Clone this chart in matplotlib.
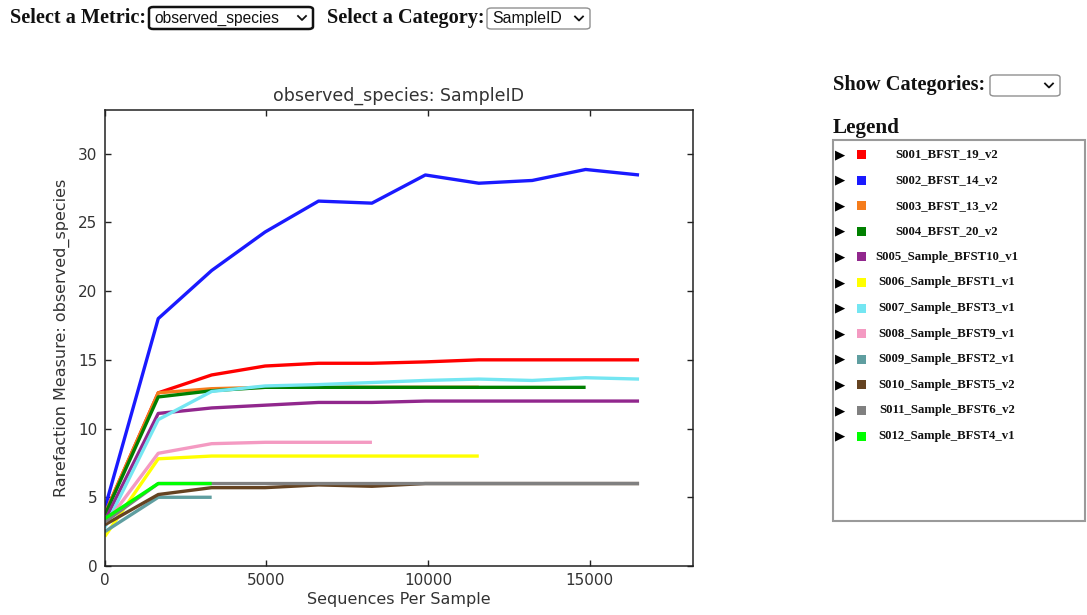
import matplotlib
matplotlib.use("Agg")
import matplotlib.pyplot as plt
from matplotlib.patches import FancyBboxPatch, Rectangle
from matplotlib.lines import Line2D

W, H = 1087, 615

# ---------------- data ----------------
depths = [10, 1661, 3312, 4963, 6614, 8265, 9916, 11567, 13218, 14869, 16520]

sample_names = [
    "S001_BFST_19_v2", "S002_BFST_14_v2", "S003_BFST_13_v2", "S004_BFST_20_v2",
    "S005_Sample_BFST10_v1", "S006_Sample_BFST1_v1", "S007_Sample_BFST3_v1",
    "S008_Sample_BFST9_v1", "S009_Sample_BFST2_v1", "S010_Sample_BFST5_v2",
    "S011_Sample_BFST6_v2", "S012_Sample_BFST4_v1",
]
sample_colors = [
    "#ff0000", "#1a1aff", "#f57c1c", "#008000", "#91278d", "#ffff00",
    "#74e6f2", "#f49ac2", "#5f9ea0", "#654321", "#808080", "#00ff00",
]

s001 = [3.8, 12.6, 13.9, 14.55, 14.75, 14.75, 14.85, 15.0, 15.0, 15.0, 15.0]
s002 = [4.2, 18.0, 21.5, 24.3, 26.55, 26.4, 28.45, 27.85, 28.05, 28.85, 28.45]
s003 = [3.8, 12.6, 12.9, 13.0, 13.0, 13.0, 13.0, 13.0]
s004 = [3.7, 12.3, 12.75, 13.0, 13.0, 13.0, 13.0, 13.0, 13.0, 13.0]
s005 = [3.3, 11.1, 11.5, 11.7, 11.9, 11.9, 12.0, 12.0, 12.0, 12.0, 12.0]
s006 = [2.15, 7.8, 8.0, 8.0, 8.0, 8.0, 8.0, 8.0]
s007 = [2.8, 10.65, 12.7, 13.1, 13.2, 13.35, 13.5, 13.6, 13.5, 13.7, 13.6]
s008 = [3.0, 8.2, 8.9, 9.0, 9.0, 9.0]
s009 = [2.5, 5.0, 5.0]
s010 = [3.0, 5.2, 5.7, 5.7, 5.9, 5.8, 6.0, 6.0, 6.0, 6.0, 6.0]
s011 = [3.2, 6.0, 6.0, 6.0, 6.0, 6.0, 6.0, 6.0, 6.0, 6.0, 6.0]
s012 = [3.45, 6.0, 6.0]
series = [s001, s002, s003, s004, s005, s006, s007, s008, s009, s010, s011, s012]

metric = "observed_species"
category = "SampleID"

# ---------------- figure ----------------
fig = plt.figure(figsize=(W / 100, H / 100), dpi=100)
fig.patch.set_facecolor("white")


def fx(x):
    return x / W


def fy(y):
    return 1 - y / H


ax = fig.add_axes([fx(104.5), fy(566), fx(692.5) - fx(104.5), fy(110) - fy(566)])
for vals, col in zip(series, sample_colors):
    ax.plot(depths[:len(vals)], vals, color=col, lw=2.4, solid_capstyle="butt")

ymax = max(max(v) for v in series) * 1.15
xmax = max(depths) * 1.1
ax.set_xlim(0, xmax)
ax.set_ylim(0, ymax)
ax.set_xticks([0, 5000, 10000, 15000])
ax.set_yticks([0, 5, 10, 15, 20, 25, 30])
ax.tick_params(direction="in", top=True, right=True, length=4, width=1,
               labelsize=11, colors="#222222", labelcolor="#333333", pad=5)
for sp in ax.spines.values():
    sp.set_color("#222222")
    sp.set_linewidth(1.1)
ax.set_title(f"{metric}: {category}", fontsize=12.5, color="#333333", pad=7)
ax.set_xlabel("Sequences Per Sample", fontsize=11.5, color="#333333", labelpad=3)
ax.set_ylabel(f"Rarefaction Measure: {metric}", fontsize=11.5, color="#333333", labelpad=6)

serif_bold = dict(family="Liberation Serif", weight="bold", color="#111111")


def select_box(x0, y0, x1, y1, text, dark=False, size=11.2):
    box = FancyBboxPatch((fx(x0), fy(y1)), fx(x1) - fx(x0), fy(y0) - fy(y1),
                         boxstyle="round,pad=0,rounding_size=0.004",
                         transform=fig.transFigure, facecolor="white",
                         edgecolor="#111111" if dark else "#8f8f8f",
                         linewidth=1.8 if dark else 1.0)
    fig.add_artist(box)
    if text:
        fig.text(fx(x0 + 5), fy((y0 + y1) / 2 + 0.5), text, family="Liberation Sans",
                 fontsize=size, va="center", ha="left", color="#111111")
    cx, cy = x1 - 11, (y0 + y1) / 2
    fig.add_artist(Line2D([fx(cx - 4), fx(cx), fx(cx + 4)], [fy(cy - 2), fy(cy + 2), fy(cy - 2)],
                          transform=fig.transFigure, color="#111111", lw=1.3))


fig.text(fx(10), fy(18), "Select a Metric:", fontsize=14.6, va="center", ha="left", **serif_bold)
select_box(149, 7, 313, 29, metric, dark=True, size=11.2)
fig.text(fx(327), fy(18), "Select a Category:", fontsize=14.6, va="center", ha="left", **serif_bold)
select_box(487, 8, 590, 29, category, size=11.4)

fig.text(fx(833), fy(85), "Show Categories:", fontsize=14.7, va="center", ha="left", **serif_bold)
select_box(990, 75, 1060, 96, "")
fig.text(fx(833), fy(128), "Legend", fontsize=15.2, va="center", ha="left", **serif_bold)

fig.add_artist(Rectangle((fx(833), fy(521)), fx(1085) - fx(833), fy(140) - fy(521),
                         transform=fig.transFigure, facecolor="white",
                         edgecolor="#9a9a9a", linewidth=1.5))

row0, step = 154.5, 25.6
for i, (name, col) in enumerate(zip(sample_names, sample_colors)):
    y = row0 + i * step
    fig.text(fx(840.5), fy(y), "\u25B6", family="DejaVu Sans", fontsize=9.5,
             va="center", ha="center", color="black")
    fig.add_artist(Rectangle((fx(857), fy(y + 4.5)), fx(9), fy(0) - fy(9),
                             transform=fig.transFigure, facecolor=col, edgecolor="none"))
    fig.text(fx(947), fy(y), name, fontsize=9.2, va="center", ha="center", **serif_bold)

fig.savefig("out.png", dpi=100)
